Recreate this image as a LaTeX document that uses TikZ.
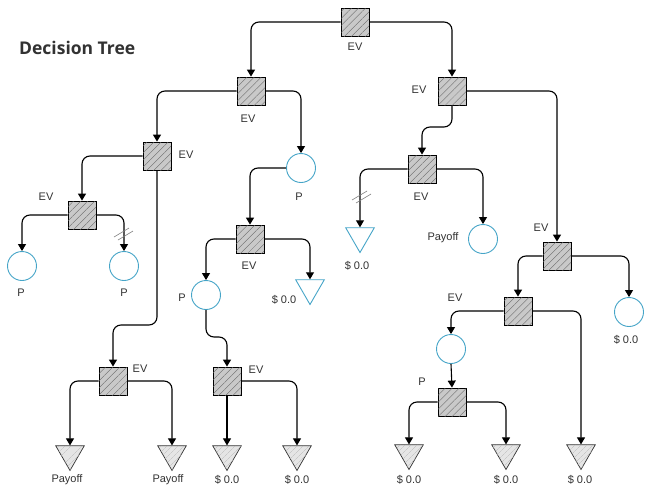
\documentclass[tikz,border=0pt]{standalone}
\usepackage{fontspec}
\setmainfont{Liberation Sans}
\newfontfamily\titlefont{Open Sans}
\usetikzlibrary{arrows.meta,shapes.geometric,patterns.meta}
\definecolor{cy}{RGB}{70,165,200}
\definecolor{txt}{RGB}{50,50,50}
\tikzset{
  dec/.style={rectangle,draw=black,line width=0.8pt,minimum size=28pt,inner sep=0pt,
    fill=gray!42,postaction={pattern={Lines[angle=45,distance=5pt,line width=0.35pt]},pattern color=gray!80!black}},
  chance/.style={circle,draw=cy,line width=0.9pt,fill=white,minimum size=29pt,inner sep=0pt},
  endc/.style={regular polygon,regular polygon sides=3,shape border rotate=180,minimum size=33pt,inner sep=0pt,
    draw=cy,line width=0.9pt,fill=white},
  endg/.style={regular polygon,regular polygon sides=3,shape border rotate=180,minimum size=33pt,inner sep=0pt,
    draw=gray!40!black,line width=0.7pt,fill=gray!20,postaction={pattern={Lines[angle=45,distance=4pt,line width=0.3pt]},pattern color=gray!55}},
  lbl/.style={font=\fontsize{11}{13}\selectfont,text=txt,inner sep=0pt},
  conn/.style={line width=1.1pt,rounded corners=8pt,-{Triangle[width=8pt,length=7pt]}},
  slash/.style={draw=gray,line width=0.6pt}
}
\begin{document}
\begin{tikzpicture}[x=1pt,y=-1pt]
\useasboundingbox[fill=white] (0,0) rectangle (651,501);
\node[font=\titlefont\bfseries\fontsize{17.5}{19}\selectfont,text=txt,anchor=west,inner sep=0pt] (title) at (19,48) {Decision Tree};
% decision squares
\node[dec] (s0) at (355,22) {};
\node[dec] (s1) at (251,91) {};
\node[dec] (s2) at (452,91) {};
\node[dec] (s3) at (157,156) {};
\node[dec] (s4) at (82,215) {};
\node[dec] (s5) at (250,239) {};
\node[dec] (s6) at (422,169) {};
\node[dec] (s7) at (557,256) {};
\node[dec] (s8) at (518,311) {};
\node[dec] (s9) at (113,381) {};
\node[dec] (s10) at (227,381) {};
\node[dec] (s11) at (452,402) {};
% chance circles
\node[chance] (c1) at (22,266) {};
\node[chance] (c2) at (124,266) {};
\node[chance] (c3) at (301,168) {};
\node[chance] (c4) at (206,295) {};
\node[chance] (c5) at (483,239) {};
\node[chance] (c6) at (629,312) {};
\node[chance] (c7) at (451,349) {};
% end triangles
\node[endc] (t1) at (360,236) {};
\node[endc] (t2) at (310,288) {};
\node[endg] (t3) at (70,454) {};
\node[endg] (t4) at (172,454) {};
\node[endg] (t5) at (227,454) {};
\node[endg] (t6) at (297,454) {};
\node[endg] (t7) at (409,453) {};
\node[endg] (t8) at (506,453) {};
\node[endg] (t9) at (581,453) {};
% labels
\node[lbl] (l0) at (355,47) {EV};
\node[lbl] (l1) at (248,119) {EV};
\node[lbl] (l2) at (419,90) {EV};
\node[lbl] (l3) at (186,155) {EV};
\node[lbl] (l4) at (46,197) {EV};
\node[lbl] (lc1) at (21,293) {P};
\node[lbl] (lc2) at (124,293) {P};
\node[lbl] (lc3) at (299,197) {P};
\node[lbl] (l5) at (249,266) {EV};
\node[lbl] (lc4) at (182,298) {P};
\node[lbl] (lt2) at (284,300) {\$ 0.0};
\node[lbl] (l9) at (140,369) {EV};
\node[lbl] (l10) at (256,370) {EV};
\node[lbl] (lt3) at (67,480) {Payoff};
\node[lbl] (lt4) at (168,480) {Payoff};
\node[lbl] (lt5) at (227,480) {\$ 0.0};
\node[lbl] (lt6) at (297,480) {\$ 0.0};
\node[lbl] (lt7) at (409,480) {\$ 0.0};
\node[lbl] (lt8) at (506,480) {\$ 0.0};
\node[lbl] (lt9) at (580,480) {\$ 0.0};
\node[lbl] (l6) at (421,197) {EV};
\node[lbl] (lt1) at (357,266) {\$ 0.0};
\node[lbl] (lc5) at (443,238) {Payoff};
\node[lbl] (l7) at (541,228) {EV};
\node[lbl] (l8) at (455,298) {EV};
\node[lbl] (lc6) at (626,340) {\$ 0.0};
\node[lbl] (lc7) at (422,382) {P};
% connectors
\draw[conn] (s0.west) -| (s1.north);
\draw[conn] (s0.east) -| (s2.north);
\draw[conn] (s1.west) -| (s3.north);
\draw[conn] (s1.east) -| (c3.north);
\draw[conn] (s2.south) -- (s2.south |- 0,127) -| (s6.north);
\draw[conn] (s2.east) -| (s7.north);
\draw[conn] (s3.west) -| (s4.north);
\draw[conn] (s3.south) -- (s3.south |- 0,325) -| (s9.north);
\draw[conn] (s4.west) -| (c1.north);
\draw[conn] (s4.east) -| (c2.north);
\draw[conn] (c3.west) -| (s5.north);
\draw[conn] (s5.west) -| (c4.north);
\draw[conn] (s5.east) -| (t2.north);
\draw[conn] (c4.south) -- (c4.south |- 0,337) -| (s10.north);
\draw[conn] (s6.west) -| (t1.north);
\draw[conn] (s6.east) -| (c5.north);
\draw[conn] (s7.west) -| (s8.north);
\draw[conn] (s7.east) -| (c6.north);
\draw[conn] (s8.west) -| (c7.north);
\draw[conn] (s8.east) -| (t9.north);
\draw[conn] (c7.south) -- (s11.north);
\draw[conn] (s9.west) -| (t3.north);
\draw[conn] (s9.east) -| (t4.north);
\draw[conn] (s10.south) -- (t5.north);
\draw[conn] (s10.east) -| (t6.north);
\draw[conn] (s11.west) -| (t7.north);
\draw[conn] (s11.east) -| (t8.north);
% cut marks
\draw[slash] (114,237) -- (129,228);
\draw[slash] (118,240) -- (133,231);
\draw[slash] (352,200) -- (367,191);
\draw[slash] (356,203) -- (371,194);
\end{tikzpicture}
\end{document}
